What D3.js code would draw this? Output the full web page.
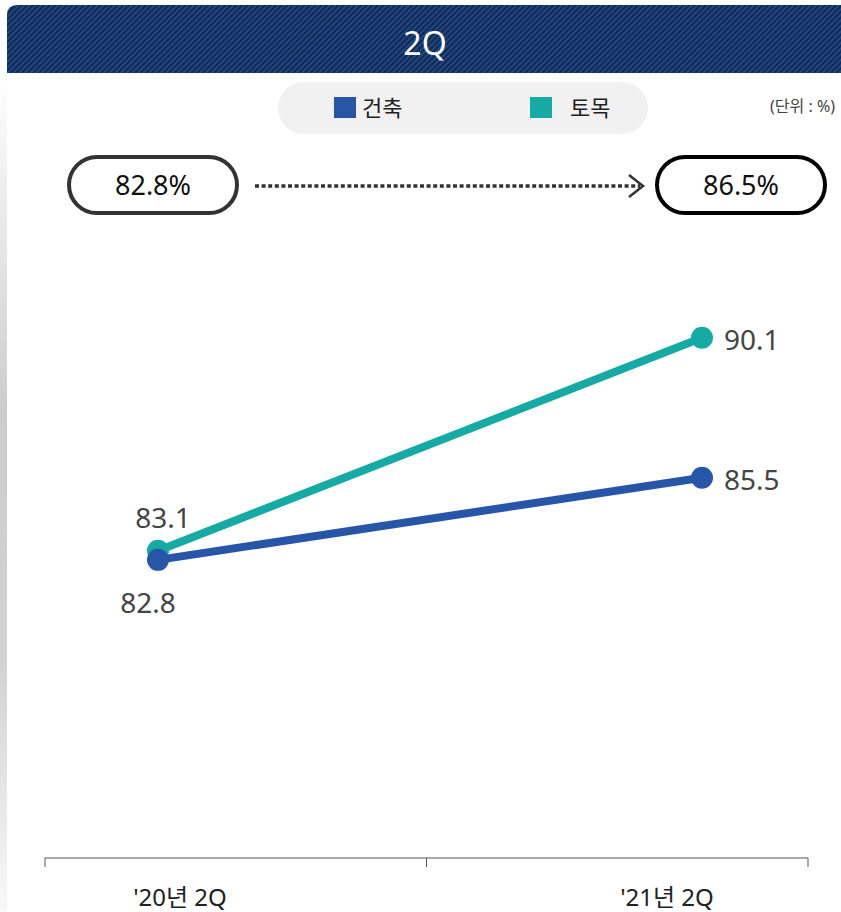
<!DOCTYPE html>
<html>
<head>
<meta charset="utf-8">
<script src="https://cdn.jsdelivr.net/npm/d3@7"></script>
<style>
  body { margin: 0; background: #fff; }
  svg { display: block; font-family: 'Noto Sans', 'Noto Sans CJK KR', sans-serif; }
</style>
</head>
<body>
<div id="chart"></div>
<script>
const periods = ["'20년 2Q", "'21년 2Q"]
const seriesNames = ['건축', '토목']
const building = [82.8, 85.5]
const civil = [83.1, 90.1]
const totals = ['82.8%', '86.5%']
const title = '2Q'
const unitLabel = '(단위 : %)'

const width = 841
const height = 912

const colors = { '건축': '#2756a8', '토목': '#15aaa3' }

const svg = d3
  .select('#chart')
  .append('svg')
  .attr('width', width)
  .attr('height', height)

const defs = svg.append('defs')

// diagonal stripes in the header
const pat = defs
  .append('pattern')
  .attr('id', 'stripes')
  .attr('width', 4)
  .attr('height', 4)
  .attr('patternUnits', 'userSpaceOnUse')
  .attr('patternTransform', 'rotate(-45)')
pat.append('rect').attr('width', 4).attr('height', 4).attr('fill', '#0c2a5a')
pat.append('rect').attr('width', 4).attr('height', 1.8).attr('fill', '#27497e')

const shadow = defs
  .append('linearGradient')
  .attr('id', 'shadowV')
  .attr('x1', 0).attr('x2', 0).attr('y1', 0).attr('y2', 1)
shadow.append('stop').attr('offset', '0%').attr('stop-color', '#fff')
shadow.append('stop').attr('offset', '40%').attr('stop-color', '#cdcdcd')
shadow.append('stop').attr('offset', '70%').attr('stop-color', '#d2d2d2')
shadow.append('stop').attr('offset', '100%').attr('stop-color', '#f8f8f8')

svg.append('rect').attr('x', 0).attr('y', 75).attr('width', 7).attr('height', 837).attr('fill', 'url(#shadowV)')

// header
svg
  .append('path')
  .attr('d', 'M7,73 V15 Q7,5 17,5 H841 V73 Z')
  .attr('fill', 'url(#stripes)')

svg
  .append('text')
  .attr('x', 425)
  .attr('y', 55)
  .attr('text-anchor', 'middle')
  .attr('fill', '#fff')
  .attr('font-size', 32)
  .text(title)

// legend
svg
  .append('rect')
  .attr('x', 278).attr('y', 82)
  .attr('width', 370).attr('height', 52)
  .attr('rx', 26)
  .attr('fill', '#f1f1f1')

const legendX = d3.scaleOrdinal().domain(seriesNames).range([334, 530])
const legend = svg
  .selectAll('.legend')
  .data(seriesNames)
  .enter()
  .append('g')
  .attr('class', 'legend')
  .attr('transform', d => `translate(${legendX(d)},97)`)
legend
  .append('rect')
  .attr('width', 22).attr('height', 21)
  .attr('fill', d => colors[d])
legend
  .append('text')
  .attr('x', (d, i) => (i === 0 ? 28 : 40))
  .attr('y', 19)
  .attr('font-size', 22)
  .attr('fill', '#222')
  .text(d => d)

svg
  .append('text')
  .attr('x', 835)
  .attr('y', 112)
  .attr('text-anchor', 'end')
  .attr('font-size', 16)
  .attr('fill', '#444')
  .text(unitLabel)

// total boxes
const boxX = d3.scalePoint().domain(periods).range([153, 741])
const boxes = svg
  .selectAll('.total')
  .data(periods)
  .enter()
  .append('g')
  .attr('class', 'total')
  .attr('transform', d => `translate(${boxX(d)},185)`)
boxes
  .append('rect')
  .attr('x', -84).attr('y', -28)
  .attr('width', 168).attr('height', 56)
  .attr('rx', 28)
  .attr('fill', '#fff')
  .attr('stroke', (d, i) => (i === 0 ? '#333' : '#000'))
  .attr('stroke-width', 4)
boxes
  .append('text')
  .attr('y', 10)
  .attr('text-anchor', 'middle')
  .attr('font-size', 27)
  .attr('fill', '#111')
  .text((d, i) => totals[i])

svg
  .append('line')
  .attr('x1', 255).attr('x2', 640)
  .attr('y1', 186).attr('y2', 186)
  .attr('stroke', '#333')
  .attr('stroke-width', 3.5)
  .attr('stroke-dasharray', '4,2.6')
svg
  .append('path')
  .attr('d', 'M629,175 L643,186 L629,197')
  .attr('fill', 'none')
  .attr('stroke', '#333')
  .attr('stroke-width', 2.5)

// chart
const x = d3.scalePoint().domain(periods).range([158, 702])
const y = d3.scaleLinear().domain([73, 92]).range([858, 280])
const band = d3.scaleBand().domain(periods).range([45, 808])

const series = [
  { name: '토목', values: civil },
  { name: '건축', values: building }
]

const line = d3
  .line()
  .x((d, i) => x(periods[i]))
  .y(d => y(d))

const g = svg
  .selectAll('.series')
  .data(series)
  .enter()
  .append('g')
  .attr('class', 'series')

g.append('path')
  .attr('d', d => line(d.values))
  .attr('fill', 'none')
  .attr('stroke', d => colors[d.name])
  .attr('stroke-width', 8)

g.selectAll('circle')
  .data(d => d.values.map((v, i) => ({ name: d.name, v, p: periods[i] })))
  .enter()
  .append('circle')
  .attr('cx', d => x(d.p))
  .attr('cy', d => y(d.v))
  .attr('r', 11)
  .attr('fill', d => colors[d.name])

// value labels
g.selectAll('.val')
  .data(d => d.values.map((v, i) => ({ name: d.name, v, i })))
  .enter()
  .append('text')
  .attr('class', 'val')
  .attr('x', d => (d.i === 0 ? x(periods[0]) + (d.name === '토목' ? 5 : -10) : x(periods[1]) + 22))
  .attr('y', d => {
    if (d.i === 1) return y(d.v) + 12
    return d.name === '토목' ? y(d.v) - 23 : y(d.v) + 53
  })
  .attr('text-anchor', d => (d.i === 0 ? 'middle' : 'start'))
  .attr('font-size', 28)
  .attr('fill', '#444')
  .text(d => d.v.toFixed(1))

// x axis
const axisY = 858
svg
  .append('line')
  .attr('x1', band.range()[0]).attr('x2', band.range()[1])
  .attr('y1', axisY).attr('y2', axisY)
  .attr('stroke', '#555')
  .attr('stroke-width', 1)
const tickPos = periods.map(p => band(p)).concat([band.range()[1]])
svg
  .selectAll('.tick')
  .data(tickPos)
  .enter()
  .append('line')
  .attr('x1', d => d).attr('x2', d => d)
  .attr('y1', axisY).attr('y2', axisY + 9)
  .attr('stroke', '#555')
  .attr('stroke-width', 1)

svg
  .selectAll('.xlabel')
  .data(periods)
  .enter()
  .append('text')
  .attr('x', (d, i) => x(d) + (i === 0 ? 22 : -35))
  .attr('y', 906)
  .attr('text-anchor', 'middle')
  .attr('font-size', 24)
  .attr('fill', '#222')
  .text(d => d)
</script>
</body>
</html>
